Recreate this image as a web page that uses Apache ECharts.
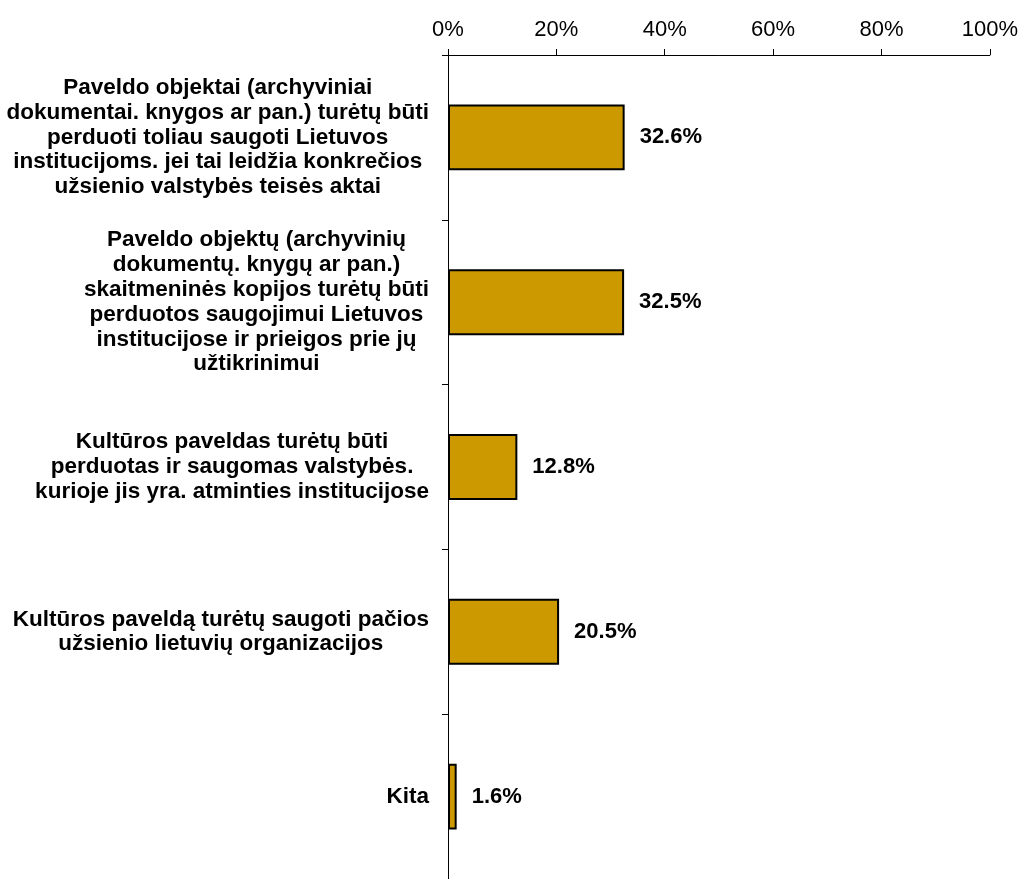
<!DOCTYPE html>
<html>
<head>
<meta charset="utf-8">
<script src="https://cdn.jsdelivr.net/npm/echarts@6/dist/echarts.min.js"></script>
<style>
html,body{margin:0;padding:0;background:#fff;}
#chart{width:1021px;height:879px;}
</style>
</head>
<body>
<div id="chart"></div>
<script>
var categories = [
  "Paveldo objektai (archyviniai\ndokumentai. knygos ar pan.) turėtų būti\nperduoti toliau saugoti Lietuvos\ninstitucijoms. jei tai leidžia konkrečios\nužsienio valstybės teisės aktai",
  "Paveldo objektų (archyvinių\ndokumentų. knygų ar pan.)\nskaitmeninės kopijos turėtų būti\nperduotos saugojimui Lietuvos\ninstitucijose ir prieigos prie jų\nužtikrinimui",
  "Kultūros paveldas turėtų būti\nperduotas ir saugomas valstybės.\nkurioje jis yra. atminties institucijose",
  "Kultūros paveldą turėtų saugoti pačios\nužsienio lietuvių organizacijos",
  "Kita"
];
var values = [32.6, 32.5, 12.8, 20.5, 1.6];
var xTicks = [0, 20, 40, 60, 80, 100];

var chart = echarts.init(document.getElementById('chart'), null, {renderer: 'canvas'});
var FONT = '"Liberation Sans", Arial, sans-serif';
chart.setOption({
  animation: false,
  backgroundColor: '#ffffff',
  grid: {left: 448, right: 31, top: 55, height: 831, containLabel: false},
  xAxis: {
    type: 'value',
    position: 'top',
    min: xTicks[0],
    max: xTicks[xTicks.length - 1],
    interval: xTicks[1] - xTicks[0],
    axisLine: {show: true, lineStyle: {color: '#000', width: 1}},
    axisTick: {show: true, inside: false, length: 6, lineStyle: {color: '#000'}},
    splitLine: {show: false},
    axisLabel: {
      formatter: '{value}%',
      color: '#000',
      fontFamily: FONT,
      fontSize: 22,
      margin: 14
    }
  },
  yAxis: {
    type: 'category',
    inverse: true,
    data: categories,
    axisLine: {show: true, lineStyle: {color: '#000', width: 1}},
    axisTick: {show: true, inside: false, length: 6, lineStyle: {color: '#000'}},
    splitLine: {show: false},
    axisLabel: {
      align: 'right',
      margin: 19,
      formatter: function (v) {
        return v.split('\n').map(function (l) { return '{c|' + l + '}'; }).join('\n');
      },
      rich: {
        c: {
          align: 'center',
          color: '#000',
          fontFamily: FONT,
          fontWeight: 'bold',
          fontSize: 22.5,
          lineHeight: 24.8
        }
      }
    }
  },
  series: [{
    type: 'bar',
    data: values,
    barWidth: '40%',
    itemStyle: {color: '#CC9900', borderColor: '#000', borderWidth: 2},
    label: {
      show: true,
      position: 'right',
      distance: 15,
      formatter: function (p) { return p.value.toFixed(1) + '%'; },
      color: '#000',
      fontFamily: FONT,
      fontWeight: 'bold',
      fontSize: 22
    }
  }]
});
</script>
</body>
</html>
